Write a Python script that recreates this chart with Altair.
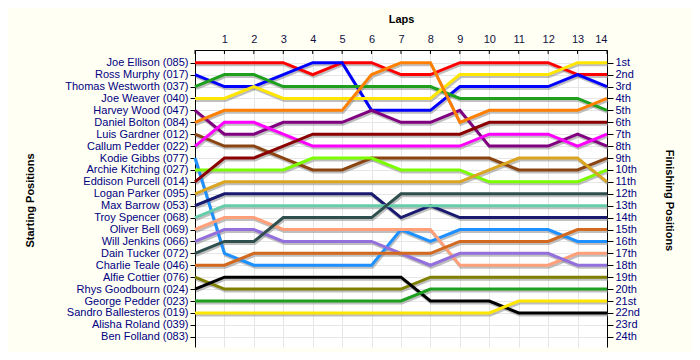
import altair as alt
import pandas as pd

laps = list(range(0, 15))
lap_ticks = list(range(1, 15))
rows_axis = list(range(1, 25))

names = [
    "Joe Ellison (085)", "Ross Murphy (017)", "Thomas Westworth (037)", "Joe Weaver (040)",
    "Harvey Wood (047)", "Daniel Bolton (084)", "Luis Gardner (012)", "Callum Pedder (022)",
    "Kodie Gibbs (077)", "Archie Kitching (027)", "Eddison Purcell (014)", "Logan Parker (095)",
    "Max Barrow (053)", "Troy Spencer (068)", "Oliver Bell (069)", "Will Jenkins (066)",
    "Dain Tucker (072)", "Charlie Teale (046)", "Alfie Cottier (076)", "Rhys Goodbourn (024)",
    "George Pedder (023)", "Sandro Ballesteros (019)", "Alisha Roland (039)", "Ben Folland (083)",
]

finish_labels = [
    "1st", "2nd", "3rd", "4th", "5th", "6th", "7th", "8th", "9th", "10th", "11th", "12th",
    "13th", "14th", "15th", "16th", "17th", "18th", "19th", "20th", "21st", "22nd", "23rd", "24th",
]

colors = [
    "#FF0000", "#0000FF", "#1EA01E", "#FFE600", "#800080", "#FF8000", "#8B4513", "#FF00FF",
    "#1E90FF", "#7CFC00", "#8B0000", "#DAA520", "#191970", "#66CDAA", "#FFA07A", "#9370DB",
    "#2F4F4F", "#D2691E", "#808000", "#000000", "#1EA01E", "#FFE600",
]

# position per lap (lap 0 .. lap 14)
p_joe_ellison = [1, 1, 1, 1, 2, 1, 1, 2, 2, 1, 1, 1, 1, 2, 2]
p_ross_murphy = [2, 3, 3, 2, 1, 1, 5, 5, 5, 3, 3, 3, 3, 2, 3]
p_thomas_westworth = [3, 2, 2, 3, 3, 3, 3, 3, 3, 4, 4, 4, 4, 4, 5]
p_joe_weaver = [4, 4, 3, 4, 4, 4, 4, 4, 4, 2, 2, 2, 2, 1, 1]
p_harvey_wood = [5, 7, 7, 6, 6, 6, 5, 6, 6, 5, 8, 8, 8, 7, 8]
p_daniel_bolton = [6, 5, 5, 5, 5, 5, 2, 1, 1, 6, 5, 5, 5, 5, 4]
p_luis_gardner = [7, 8, 8, 9, 10, 10, 9, 9, 9, 9, 9, 10, 10, 10, 9]
p_callum_pedder = [8, 6, 6, 7, 8, 8, 8, 8, 8, 8, 7, 7, 7, 8, 7]
p_kodie_gibbs = [9, 17, 18, 18, 18, 18, 18, 15, 16, 15, 15, 15, 15, 16, 16]
p_archie_kitching = [10, 10, 10, 10, 9, 9, 9, 10, 10, 10, 11, 11, 11, 11, 10]
p_eddison_purcell = [11, 9, 9, 8, 7, 7, 7, 7, 7, 7, 6, 6, 6, 6, 6]
p_logan_parker = [12, 11, 11, 11, 11, 11, 11, 11, 11, 11, 10, 9, 9, 9, 11]
p_max_barrow = [13, 12, 12, 12, 12, 12, 12, 14, 13, 14, 14, 14, 14, 14, 14]
p_troy_spencer = [14, 13, 13, 13, 13, 13, 13, 13, 13, 13, 13, 13, 13, 13, 13]
p_oliver_bell = [15, 14, 14, 15, 15, 15, 15, 15, 15, 18, 18, 18, 18, 17, 17]
p_will_jenkins = [16, 15, 15, 16, 16, 16, 16, 17, 18, 17, 17, 17, 17, 18, 18]
p_dain_tucker = [17, 16, 16, 14, 14, 14, 14, 12, 12, 12, 12, 12, 12, 12, 12]
p_charlie_teale = [18, 18, 17, 17, 17, 17, 17, 17, 17, 16, 16, 16, 16, 15, 15]
p_alfie_cottier = [19, 20, 20, 20, 20, 20, 20, 20, 19, 19, 19, 19, 19, 19, 19]
p_rhys_goodbourn = [20, 19, 19, 19, 19, 19, 19, 19, 21, 21, 21, 22, 22, 22, 22]
p_george_pedder = [21, 21, 21, 21, 21, 21, 21, 21, 20, 20, 20, 20, 20, 20, 20]
p_sandro_ballesteros = [22, 22, 22, 22, 22, 22, 22, 22, 22, 22, 22, 21, 21, 21, 21]

series = [
    p_joe_ellison, p_ross_murphy, p_thomas_westworth, p_joe_weaver, p_harvey_wood,
    p_daniel_bolton, p_luis_gardner, p_callum_pedder, p_kodie_gibbs, p_archie_kitching,
    p_eddison_purcell, p_logan_parker, p_max_barrow, p_troy_spencer, p_oliver_bell,
    p_will_jenkins, p_dain_tucker, p_charlie_teale, p_alfie_cottier, p_rhys_goodbourn,
    p_george_pedder, p_sandro_ballesteros,
]

records = []
for i, s in enumerate(series):
    for lap, p in zip(laps, s):
        records.append({"driver": names[i], "order": i, "lap": lap, "pos": p})
df = pd.DataFrame(records)

FONT = "Liberation Sans"
LABEL_COLOR = "#000080"

left_expr = "[" + ",".join("'" + n + "'" for n in names) + "][datum.value - 1]"
right_expr = "[" + ",".join("'" + n + "'" for n in finish_labels) + "][datum.value - 1]"

xscale = alt.Scale(domain=[0, 14], nice=False, zero=False)
yscale = alt.Scale(domain=[-0.066, 24.86], nice=False, zero=False, reverse=True)

x_axis = alt.Axis(
    orient="top", values=lap_ticks, format="d", labelAngle=0, ticks=False,
    labelPadding=6, labelFont=FONT, labelFontSize=11, labelColor="#101040",
    domainColor="black", grid=True, gridColor="#E6E6E6",
    title="Laps", titleFont=FONT, titleFontSize=11, titleFontWeight="bold",
    titleColor="black", titleY=-28, titleBaseline="alphabetic",
)
x_enc = alt.X("lap:Q", scale=xscale, axis=x_axis)

shadow = alt.Chart(df).mark_line(
    color="#8a8a8a", opacity=0.55, strokeWidth=3, xOffset=1, yOffset=2
).encode(
    x=x_enc,
    y=alt.Y(
        "pos:Q",
        scale=yscale,
        axis=alt.Axis(
            orient="right", values=rows_axis, labelExpr=right_expr, grid=False,
            title="Finishing Positions", titleFont=FONT, titleFontSize=11,
            titleFontWeight="bold", titleColor="black", titleX=61, titleY=150,
            titleAngle=90, titleBaseline="middle", titleAlign="center",
            labelFont=FONT, labelFontSize=11, labelColor=LABEL_COLOR, labelPadding=2,
            tickSize=6, tickColor="black", domainColor="black",
        ),
    ),
    detail="driver:N",
    order="order:Q",
)

lines = alt.Chart(df).mark_line(strokeWidth=3).encode(
    x=x_enc,
    y=alt.Y(
        "pos:Q",
        scale=yscale,
        axis=alt.Axis(
            orient="left", values=rows_axis, labelExpr=left_expr, grid=True,
            gridColor="#E6E6E6",
            title="Starting Positions", titleFont=FONT, titleFontSize=11,
            titleFontWeight="bold", titleColor="black", titleX=-165, titleY=150,
            titleAngle=270, titleBaseline="middle", titleAlign="center",
            labelFont=FONT, labelFontSize=11, labelColor=LABEL_COLOR, labelPadding=2,
            tickSize=5, tickColor="black", domainColor="black",
        ),
    ),
    color=alt.Color("driver:N", scale=alt.Scale(domain=names[:22], range=colors), legend=None),
    order="order:Q",
)

top_ticks = alt.Chart(pd.DataFrame({"lap": laps})).mark_rule(color="black").encode(
    x=x_enc,
    y=alt.value(0),
    y2=alt.value(4),
)

chart = alt.layer(shadow, lines, top_ticks).resolve_axis(y="independent").properties(
    width=412,
    height=297,
    padding={"left": 187, "top": 42, "right": 85, "bottom": 5},
    autosize=alt.AutoSizeParams(type="none"),
    background="#FFFFF4",
).configure_view(stroke="transparent", fill="white")

chart.save("out.html", embed_options={"renderer": "svg", "actions": False})
